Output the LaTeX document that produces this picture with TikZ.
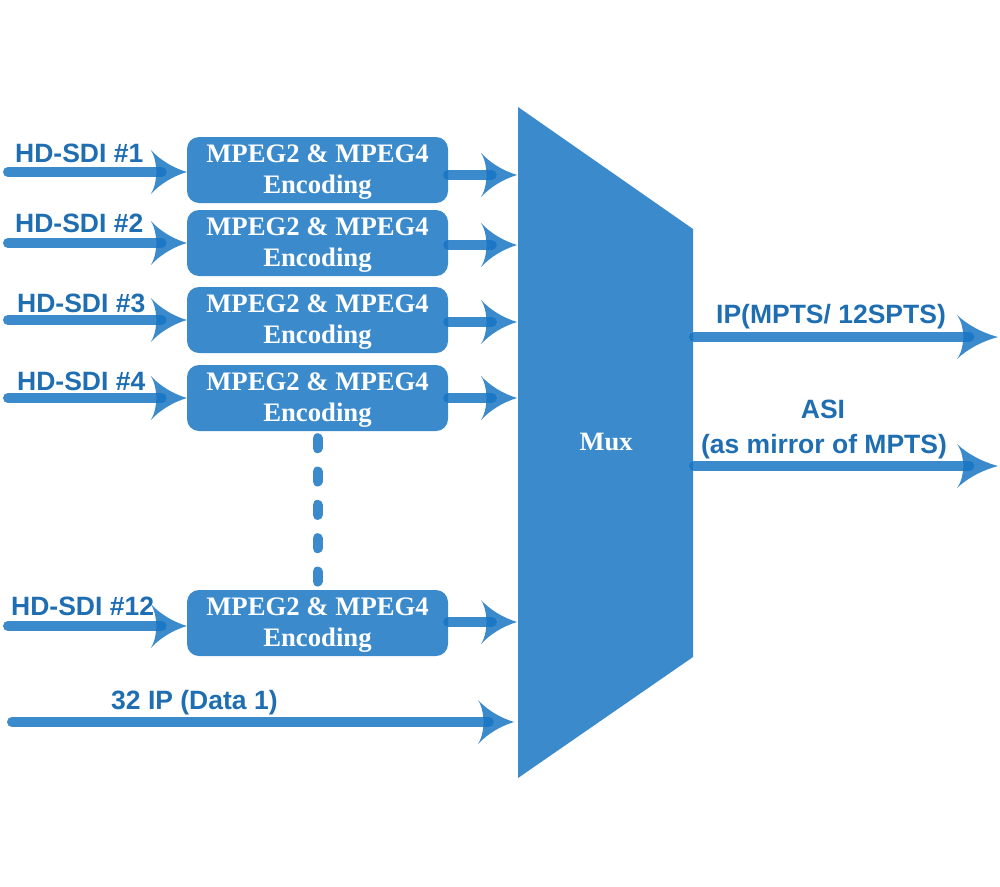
\documentclass[tikz,border=0pt]{standalone}
\usepackage{fontspec}
\setmainfont{Liberation Serif}
\newfontfamily\lsans{Liberation Sans}
\usetikzlibrary{arrows.meta}
\definecolor{mblue}{RGB}{58,138,204}
\definecolor{ablue}{RGB}{23,117,195}
\definecolor{tblue}{RGB}{31,110,178}
\pgfdeclarearrow{
  name=Swoop,
  parameters={\the\pgfarrowlength,\the\pgfarrowwidth},
  setup code={
    \pgfarrowssettipend{0pt}
    \pgfarrowssetlineend{-0.7\pgfarrowlength}
    \pgfarrowssetbackend{-\pgfarrowlength}
    \pgfarrowssetvisualbackend{-0.85\pgfarrowlength}
    \pgfarrowshullpoint{0pt}{0pt}
    \pgfarrowsupperhullpoint{-\pgfarrowlength}{.5\pgfarrowwidth}
    \pgfarrowssavethe\pgfarrowlength
    \pgfarrowssavethe\pgfarrowwidth
  },
  drawing code={
    \pgfpathmoveto{\pgfpointorigin}
    \pgfpathcurveto{\pgfpoint{-.4\pgfarrowlength}{.1\pgfarrowwidth}}{\pgfpoint{-.75\pgfarrowlength}{.28\pgfarrowwidth}}{\pgfpoint{-\pgfarrowlength}{.5\pgfarrowwidth}}
    \pgfpathcurveto{\pgfpoint{-.86\pgfarrowlength}{.32\pgfarrowwidth}}{\pgfpoint{-.86\pgfarrowlength}{.12\pgfarrowwidth}}{\pgfpoint{-.84\pgfarrowlength}{0pt}}
    \pgfpathcurveto{\pgfpoint{-.86\pgfarrowlength}{-.12\pgfarrowwidth}}{\pgfpoint{-.86\pgfarrowlength}{-.32\pgfarrowwidth}}{\pgfpoint{-\pgfarrowlength}{-.5\pgfarrowwidth}}
    \pgfpathcurveto{\pgfpoint{-.75\pgfarrowlength}{-.28\pgfarrowwidth}}{\pgfpoint{-.4\pgfarrowlength}{-.1\pgfarrowwidth}}{\pgfpointorigin}
    \pgfpathclose
    \pgfusepathqfill
  },
  defaults={length=36pt,width=44pt}
}
\tikzset{
  enc/.style={draw=none,fill=mblue,rounded corners=12pt,minimum width=261pt,minimum height=66pt,inner sep=0pt},
  enctext/.style={inner sep=0pt,text=white,font=\fontsize{26.7}{31}\selectfont\bfseries,anchor=base},
  arr/.style={draw=ablue,opacity=0.85,line width=10pt,line cap=round,-{Swoop[length=36pt,width=44pt]}},
  bigarr/.style={draw=ablue,opacity=0.85,line width=10pt,line cap=round,-{Swoop[length=41pt,width=44pt]}},
  lab/.style={text=tblue,font=\lsans\fontsize{26.5}{35}\selectfont\bfseries,inner sep=0pt},
  dotline/.style={draw=mblue,line width=10pt,line cap=round,dash pattern=on 10pt off 23.33pt}
}
\begin{document}
\begin{tikzpicture}[x=1pt,y=-1pt]
\useasboundingbox (0,0) rectangle (1000,886);
% Mux
\fill[mblue] (518,107) -- (693,229) -- (693,657) -- (518,778) -- cycle;
\node[text=white,font=\fontsize{26.5}{30}\selectfont\bfseries,inner sep=0pt] (mux) at (606,442) {Mux};
% encoder boxes
\node[enc] (b1) at (317.5,170) {};
\node[enc] (b2) at (317.5,243) {};
\node[enc] (b3) at (317.5,320) {};
\node[enc] (b4) at (317.5,398) {};
\node[enc] (b12) at (317.5,623) {};
\foreach \b in {b1,b2,b3,b4,b12}{
  \node[enctext] (\b-top) at ([yshift=8pt]\b.center) {MPEG2 \& MPEG4};
  \node[enctext] (\b-bot) at ([yshift=-23pt]\b.center) {Encoding};
}
% inputs
\coordinate (i1) at (8,172);
\coordinate (i2) at (8,243);
\coordinate (i3) at (8,320);
\coordinate (i4) at (8,398);
\coordinate (i12) at (8,626);
\draw[arr] (i1) -- (i1 -| b1.west);
\draw[arr] (i2) -- (i2 -| b2.west);
\draw[arr] (i3) -- (i3 -| b3.west);
\draw[arr] (i4) -- (i4 -| b4.west);
\draw[arr] (i12) -- (i12 -| b12.west);
\node[lab,anchor=base west] (l1) at (15,162) {HD-SDI \#1};
\node[lab,anchor=base west] (l2) at (15,232) {HD-SDI \#2};
\node[lab,anchor=base west] (l3) at (17,312) {HD-SDI \#3};
\node[lab,anchor=base west] (l4) at (17,390) {HD-SDI \#4};
\node[lab,anchor=base west] (l12) at (11,615) {HD-SDI \#12};
% outputs of boxes into mux
\coordinate (m1) at (517,175);
\coordinate (m2) at (517,245);
\coordinate (m3) at (517,322);
\coordinate (m4) at (517,398);
\coordinate (m12) at (517,622);
\draw[arr] (b1.east |- m1) -- (m1);
\draw[arr] (b2.east |- m2) -- (m2);
\draw[arr] (b3.east |- m3) -- (m3);
\draw[arr] (b4.east |- m4) -- (m4);
\draw[arr] (b12.east |- m12) -- (m12);
% dotted continuation
\draw[dotline] ([yshift=-7pt]b4.south) -- ([yshift=7pt]b12.north);
% data input
\coordinate (d0) at (12,722);
\coordinate (d1) at (514,722);
\draw[arr] (d0) -- (d1);
\node[lab,anchor=base west] (ld) at (111,709) {32 IP (Data 1)};
% mux outputs
\coordinate (o1s) at (694,337);
\coordinate (o1e) at (998,337);
\coordinate (o2s) at (694,466);
\coordinate (o2e) at (998,466);
\draw[bigarr] (o1s) -- (o1e);
\draw[bigarr] (o2s) -- (o2e);
\node[lab,anchor=base] (lo1) at (831,323) {IP(MPTS/ 12SPTS)};
\node[lab,anchor=base] (lo2a) at (823,418) {ASI};
\node[lab,anchor=base] (lo2b) at (824,453) {(as mirror of MPTS)};
\end{tikzpicture}
\end{document}
